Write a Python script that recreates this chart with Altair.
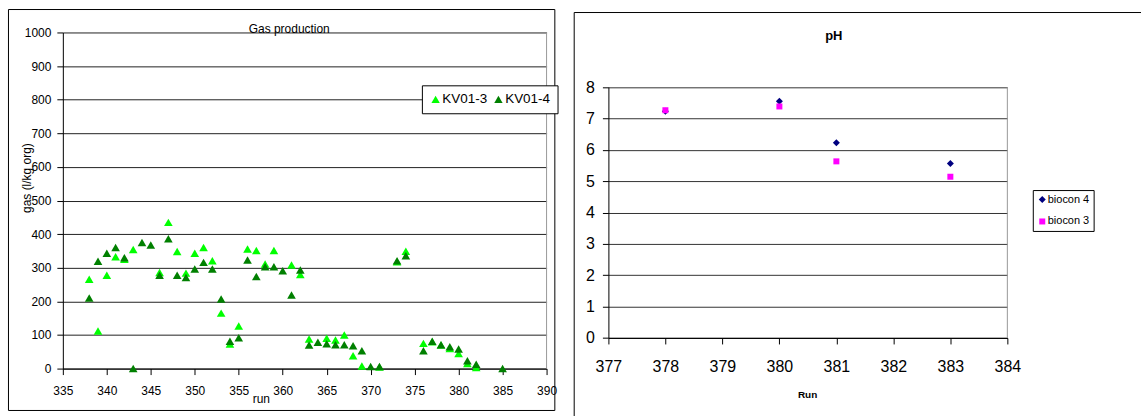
import altair as alt
import pandas as pd

FONT = "Liberation Sans"

# ---- Gas production data ----
runs_kv3 = [338, 339, 340, 341, 342, 343, 346, 347, 348, 349, 350, 351, 352, 353, 354, 355,
            356, 357, 358, 359, 361, 362, 363, 365, 366, 367, 368, 369, 371, 373, 374, 376,
            377, 378, 379, 380, 381, 382]
gas_kv3 = [266, 112, 278, 333, 325, 354, 286, 435, 348, 284, 343, 360, 321, 165, 73, 127,
           356, 351, 311, 351, 308, 280, 88, 90, 85, 100, 38, 8, 5, 318, 349, 75,
           80, 70, 60, 45, 15, 3]
runs_kv4 = [338, 339, 340, 341, 342, 343, 344, 345, 346, 347, 348, 349, 350, 351, 352, 353,
            354, 355, 356, 357, 358, 359, 360, 361, 362, 363, 364, 365, 366, 367, 368, 369,
            370, 371, 373, 374, 376, 377, 378, 379, 380, 381, 382, 385]
gas_kv4 = [210, 319, 343, 360, 330, 0, 375, 368, 278, 386, 278, 271, 296, 316, 296, 207,
           81, 92, 323, 274, 303, 303, 291, 219, 293, 70, 78, 74, 71, 71, 68, 53,
           6, 6, 321, 336, 53, 81, 71, 65, 58, 23, 13, 0]
gas_series = ["KV01-3", "KV01-4"]
gas_ticks_x = list(range(335, 391, 5))
gas_ticks_y = list(range(0, 1001, 100))

# ---- pH data ----
ph_runs = [378, 380, 381, 383]
ph_biocon4 = [7.23, 7.55, 6.22, 5.56]
ph_biocon3 = [7.26, 7.38, 5.63, 5.14]
ph_series = ["biocon 4", "biocon 3"]
ph_ticks_x = list(range(377, 385))
ph_ticks_y = list(range(0, 9))

gas_df = pd.concat([
    pd.DataFrame({"run": runs_kv3, "gas": gas_kv3, "series": gas_series[0]}),
    pd.DataFrame({"run": runs_kv4, "gas": gas_kv4, "series": gas_series[1]}),
], ignore_index=True)
ph_df = pd.concat([
    pd.DataFrame({"run": ph_runs, "ph": ph_biocon4, "series": ph_series[0]}),
    pd.DataFrame({"run": ph_runs, "ph": ph_biocon3, "series": ph_series[1]}),
], ignore_index=True)
one = pd.DataFrame({"k": [0]})

# ---------------- Left chart ----------------
LW, LH = 485, 337
gas_points = alt.Chart(gas_df).mark_point(shape="triangle-up", filled=True, size=75, opacity=1).encode(
    x=alt.X("run:Q", scale=alt.Scale(domain=[335, 390], nice=False, zero=False),
            axis=alt.Axis(values=gas_ticks_x, title=None, grid=False, tickSize=6, labelPadding=11,
                          labelFontSize=12, format="d")),
    y=alt.Y("gas:Q", scale=alt.Scale(domain=[0, 1000], nice=False),
            axis=alt.Axis(values=gas_ticks_y, title=None, grid=True, gridColor="#222", gridWidth=1,
                          tickSize=6, labelPadding=6, labelFontSize=12, format="d")),
    color=alt.Color("series:N", scale=alt.Scale(domain=gas_series, range=["#00ff00", "#008000"]),
                    legend=alt.Legend(orient="none", legendX=360, legendY=53, direction="horizontal",
                                      title=None, fillColor="white", strokeColor="black", padding=7,
                                      symbolType="triangle-up", symbolSize=70, symbolStrokeWidth=0,
                                      labelFontSize=13.5, labelFont=FONT, labelColor="black",
                                      labelOffset=0, columnPadding=4)),
)
left_frame = alt.Chart(one).mark_rect(fillOpacity=0, stroke="black", strokeWidth=1).encode(
    x=alt.value(-54.5), x2=alt.value(493.3), y=alt.value(-23), y2=alt.value(379))
left_border = alt.Chart(one).mark_rule(color="#999", strokeWidth=1).encode(
    x=alt.value(LW), y=alt.value(0), y2=alt.value(LH))
left_title = alt.Chart(one).mark_text(text="Gas production", font=FONT, fontSize=12, color="black",
                                      baseline="middle").encode(x=alt.value(227), y=alt.value(-3))
left_ylab = alt.Chart(one).mark_text(text="gas (l/kg org)", font=FONT, fontSize=12, color="black",
                                     angle=270, baseline="middle").encode(x=alt.value(-36), y=alt.value(146))
left_xlab = alt.Chart(one).mark_text(text="run", font=FONT, fontSize=12, color="black",
                                     baseline="middle").encode(x=alt.value(199), y=alt.value(368))
left = alt.layer(left_frame, left_border, gas_points, left_title, left_ylab, left_xlab).properties(
    width=LW, height=LH)

# ---------------- Right chart ----------------
# plot area shares its top with the left panel; the y range places the 0..8 band lower
RW, RH = 400, 306.3
RTOP = 54.7
ph_points = alt.Chart(ph_df).mark_point(filled=True, opacity=1).encode(
    x=alt.X("run:Q", scale=alt.Scale(domain=[377, 384], nice=False, zero=False),
            axis=alt.Axis(values=ph_ticks_x, title=None, grid=False, tickSize=6, labelPadding=15,
                          labelFontSize=16, format="d")),
    y=alt.Y("ph:Q", scale=alt.Scale(domain=[0, 8], nice=False, range=[RH, RTOP]),
            axis=alt.Axis(values=ph_ticks_y, title=None, grid=True, gridColor="#333", gridWidth=1,
                          tickSize=6, labelPadding=8, labelFontSize=16)),
    color=alt.Color("series:N", scale=alt.Scale(domain=ph_series, range=["#000080", "#ff00ff"]),
                    legend=alt.Legend(orient="none", legendX=425.5, legendY=158, title=None,
                                      fillColor="white", strokeColor="black", padding=4,
                                      labelFontSize=11, labelFont=FONT, labelColor="black",
                                      labelOffset=0, rowPadding=10, symbolSize=36)),
    shape=alt.Shape("series:N", scale=alt.Scale(domain=ph_series, range=["diamond", "square"]),
                    legend=None),
    size=alt.Size("series:N", scale=alt.Scale(domain=ph_series, range=[49, 36]), legend=None),
)
right_frame_v = alt.Chart(one).mark_rule(color="black", strokeWidth=1).encode(
    x=alt.value(-34.3), y=alt.value(-20), y2=alt.value(385))
right_frame_h = alt.Chart(one).mark_rule(color="black", strokeWidth=1).encode(
    x=alt.value(-34.3), x2=alt.value(534), y=alt.value(-20))
right_border = alt.Chart(one).mark_rule(color="#999", strokeWidth=1).encode(
    x=alt.value(RW), y=alt.value(RTOP), y2=alt.value(RH))
right_title = alt.Chart(one).mark_text(text="pH", font=FONT, fontSize=13, fontWeight="bold",
                                       color="black", baseline="middle").encode(x=alt.value(226), y=alt.value(4))
right_xlab = alt.Chart(one).mark_text(text="Run", font=FONT, fontSize=10, fontWeight="bold",
                                      color="black", baseline="middle").encode(x=alt.value(199.7), y=alt.value(363.3))
right = alt.layer(right_frame_v, right_frame_h, right_border, ph_points, right_title, right_xlab).properties(
    width=RW, height=RH)

chart = alt.hconcat(left, right, spacing=15).resolve_scale(color="independent", shape="independent",
                                                          size="independent", x="independent", y="independent").properties(
    padding={"left": 8, "top": 8, "right": 0, "bottom": 0},
    background="white",
).configure_view(strokeWidth=0).configure_axis(
    labelFont=FONT, labelColor="black", domainColor="black", tickColor="black", domainWidth=1, tickWidth=1,
    labelFlush=False, labelOverlap=False
)

chart.save("out.html", embed_options={"renderer": "svg", "actions": False})
